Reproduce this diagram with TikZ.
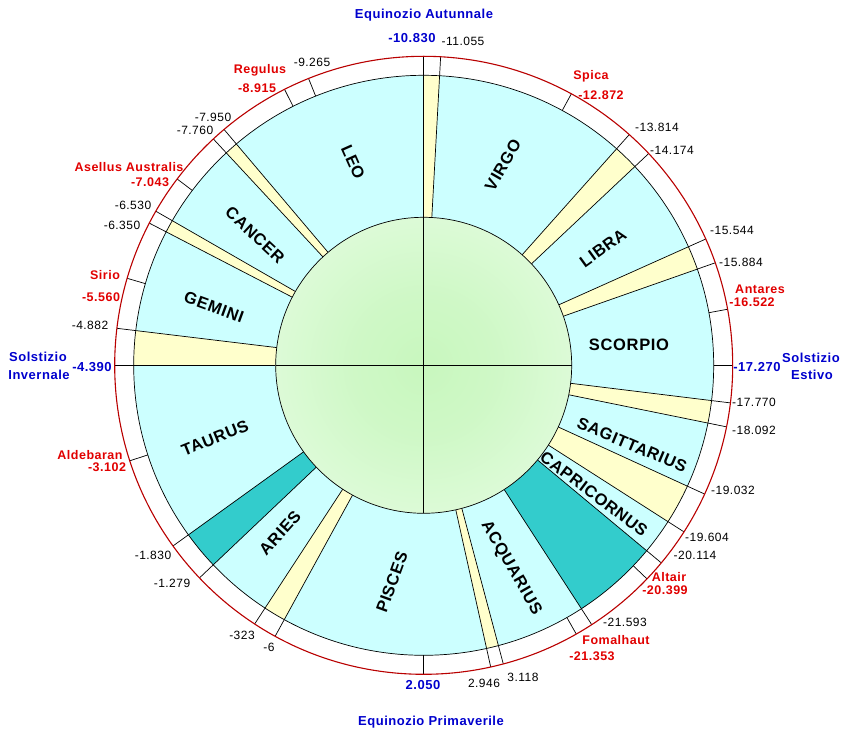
\documentclass[tikz,border=0pt]{standalone}
\usepackage{fontspec}
\setmainfont{Liberation Sans}
\newfontfamily\widefont[LetterSpace=4.0]{Liberation Sans}
\definecolor{cyanfill}{RGB}{204,255,255}
\definecolor{yelfill}{RGB}{255,255,204}
\definecolor{tealfill}{RGB}{51,204,204}
\definecolor{glowin}{RGB}{200,247,190}
\definecolor{glowout}{RGB}{246,255,246}
\definecolor{redlab}{RGB}{225,0,0}
\definecolor{bluelab}{RGB}{0,0,205}
\definecolor{ringred}{RGB}{185,0,0}
\pgfdeclareradialshading{glow}{\pgfpoint{0bp}{0bp}}{color(0bp)=(glowin); color(12bp)=(glowin!85!glowout); color(50bp)=(glowout); color(100bp)=(glowout)}
\tikzset{
  signlab/.style={font=\widefont\fontsize{16.5}{16.5}\selectfont\bfseries, inner sep=0pt},
  numlab/.style={font=\widefont\fontsize{12}{12}\selectfont, inner sep=0pt, text height=8.6pt, text depth=0pt},
  starlab/.style={font=\widefont\fontsize{12.5}{12.5}\selectfont\bfseries, text=redlab, inner sep=0pt, text height=9pt, text depth=0pt},
  cardlab/.style={font=\widefont\fontsize{13}{13}\selectfont\bfseries, text=bluelab, inner sep=0pt, text height=9.3pt, text depth=0pt},
  outline/.style={draw=black, line width=0.7pt},
}
\begin{document}
\begin{tikzpicture}[x=1pt,y=1pt]
% ---- circular chart, centre at origin, y up ----
\fill[white] (0,0) circle (309pt);
\fill[cyanfill] (0,0) circle (290pt);
% yellow gaps
\foreach \a/\b in {173.124/180, 150.093/152.609, 130.248/132.904, 86.856/90,
  43.267/48.298, 19.370/24.121, -11.488/-6.988, -32.618/-24.625,
  -77.478/-75.074, 236.837/241.267}
  \fill[yelfill] (0,0) -- (\a:290pt) arc[start angle=\a, end angle=\b, radius=290pt] -- cycle;
% teal overlaps
\foreach \a/\b in {-57.061/-39.746, 215.776/223.477}
  \fill[tealfill] (0,0) -- (\a:290pt) arc[start angle=\a, end angle=\b, radius=290pt] -- cycle;
% sector boundaries
\foreach \a in {180, 173.124, 152.609, 150.093, 132.904, 130.248, 90, 86.856,
  48.298, 43.267, 24.121, 19.370, -6.988, -11.488, -24.625, -32.618,
  -39.746, -57.061, -75.074, -77.478, 241.267, 236.837, 223.477, 215.776}
  \draw[outline] (\a:148pt) -- (\a:290pt);
% inner disc
\shade[shading=glow] (0,0) circle (148pt);
\draw[outline] (0,0) circle (148pt);
\draw[outline] (-148pt,0) -- (148pt,0);
\draw[outline] (0,-148pt) -- (0,148pt);
% ring
\draw[outline] (0,0) circle (290pt);
\foreach \a in {180, 173.124, 163.649, 152.609, 150.093, 142.924, 132.904, 130.248,
  116.763, 111.872, 90, 86.856, 61.463, 48.298, 43.267, 24.121, 19.370, 10.453, 0,
  -6.988, -11.488, -24.625, -32.618, -39.746, -43.729, -57.061, -60.415,
  -75.074, -77.478, -90, 241.267, 236.837, 223.477, 215.776, 198.0}
  \draw[outline] (\a:290pt) -- (\a:309pt);
\draw[ringred, line width=1.1pt] (0,0) circle (309pt);

% ---- labels, in image pixel coordinates (y down) ----
\begin{scope}[shift={(-423.7,365.3)}, x=1pt, y=-1pt]
\useasboundingbox (0,0) rectangle (847,734);
% sign names
\node[signlab, rotate=-66] (leo) at (353,162) {LEO};
\node[signlab, rotate=60] (virgo) at (503,165) {VIRGO};
\node[signlab, rotate=-43] (cancer) at (255,235) {CANCER};
\node[signlab, rotate=36] (libra) at (603,248) {LIBRA};
\node[signlab, rotate=-20] (gemini) at (214,307) {GEMINI};
\node[signlab] (scorpio) at (629,345) {SCORPIO};
\node[signlab, rotate=22] (taurus) at (215,438) {TAURUS};
\node[signlab, rotate=-23] (sagittarius) at (632,445) {SAGITTARIUS};
\node[signlab, rotate=-37] (capricornus) at (594,494) {CAPRICORNUS};
\node[signlab, rotate=-60] (acquarius) at (511,568) {ACQUARIUS};
\node[signlab, rotate=70] (pisces) at (392,582) {PISCES};
\node[signlab, rotate=48] (aries) at (280,533) {ARIES};
% black tick numbers
\node[numlab] (t11055) at (463,41) {-11.055};
\node[numlab] (t9265) at (312,62) {-9.265};
\node[numlab] (t7950) at (213,117) {-7.950};
\node[numlab] (t7760) at (195,130) {-7.760};
\node[numlab] (t6530) at (133,205) {-6.530};
\node[numlab] (t6350) at (122,225) {-6.350};
\node[numlab] (t4882) at (90,325) {-4.882};
\node[numlab] (t13814) at (657,127) {-13.814};
\node[numlab] (t14174) at (672,150) {-14.174};
\node[numlab] (t15544) at (732,230) {-15.544};
\node[numlab] (t15884) at (741,262) {-15.884};
\node[numlab] (t17770) at (754,402) {-17.770};
\node[numlab] (t18092) at (754,430) {-18.092};
\node[numlab] (t19032) at (733,490) {-19.032};
\node[numlab] (t19604) at (707,537) {-19.604};
\node[numlab] (t20114) at (695,555) {-20.114};
\node[numlab] (t21593) at (625,622) {-21.593};
\node[numlab] (t3118) at (523,677) {3.118};
\node[numlab] (t2946) at (484,683) {2.946};
\node[numlab] (t6) at (269,647) {-6};
\node[numlab] (t323) at (242,635) {-323};
\node[numlab] (t1279) at (172,583) {-1.279};
\node[numlab] (t1830) at (153,555) {-1.830};
% stars
\node[starlab] (regulus) at (260,69) {Regulus};
\node[starlab] (regulusy) at (257,88) {-8.915};
\node[starlab] (asellus) at (129,167) {Asellus Australis};
\node[starlab] (asellusy) at (150,182) {-7.043};
\node[starlab] (sirio) at (105,275) {Sirio};
\node[starlab] (sirioy) at (101,297) {-5.560};
\node[starlab] (aldebaran) at (90,455) {Aldebaran};
\node[starlab] (aldebarany) at (107,467) {-3.102};
\node[starlab] (spica) at (591,75) {Spica};
\node[starlab] (spicay) at (601,95) {-12.872};
\node[starlab] (antares) at (760,289) {Antares};
\node[starlab] (antaresy) at (752,302) {-16.522};
\node[starlab] (altair) at (669,577) {Altair};
\node[starlab] (altairy) at (665,590) {-20.399};
\node[starlab] (fomalhaut) at (616,640) {Fomalhaut};
\node[starlab] (fomalhauty) at (592,656) {-21.353};
% equinoxes and solstices
\node[cardlab] (eqaut) at (424,14) {Equinozio Autunnale};
\node[cardlab] (eqauty) at (412,38) {-10.830};
\node[cardlab] (solinv) at (38,357) {Solstizio};
\node[cardlab] (solinv2) at (39,375) {Invernale};
\node[cardlab] (solinvy) at (92,367) {-4.390};
\node[cardlab] (solest) at (811,358) {Solstizio};
\node[cardlab] (solest2) at (812,375) {Estivo};
\node[cardlab] (solesty) at (757,367) {-17.270};
\node[cardlab] (eqpri) at (431,721) {Equinozio Primaverile};
\node[cardlab] (eqpriy) at (423,685) {2.050};
\end{scope}
\end{tikzpicture}
\end{document}
